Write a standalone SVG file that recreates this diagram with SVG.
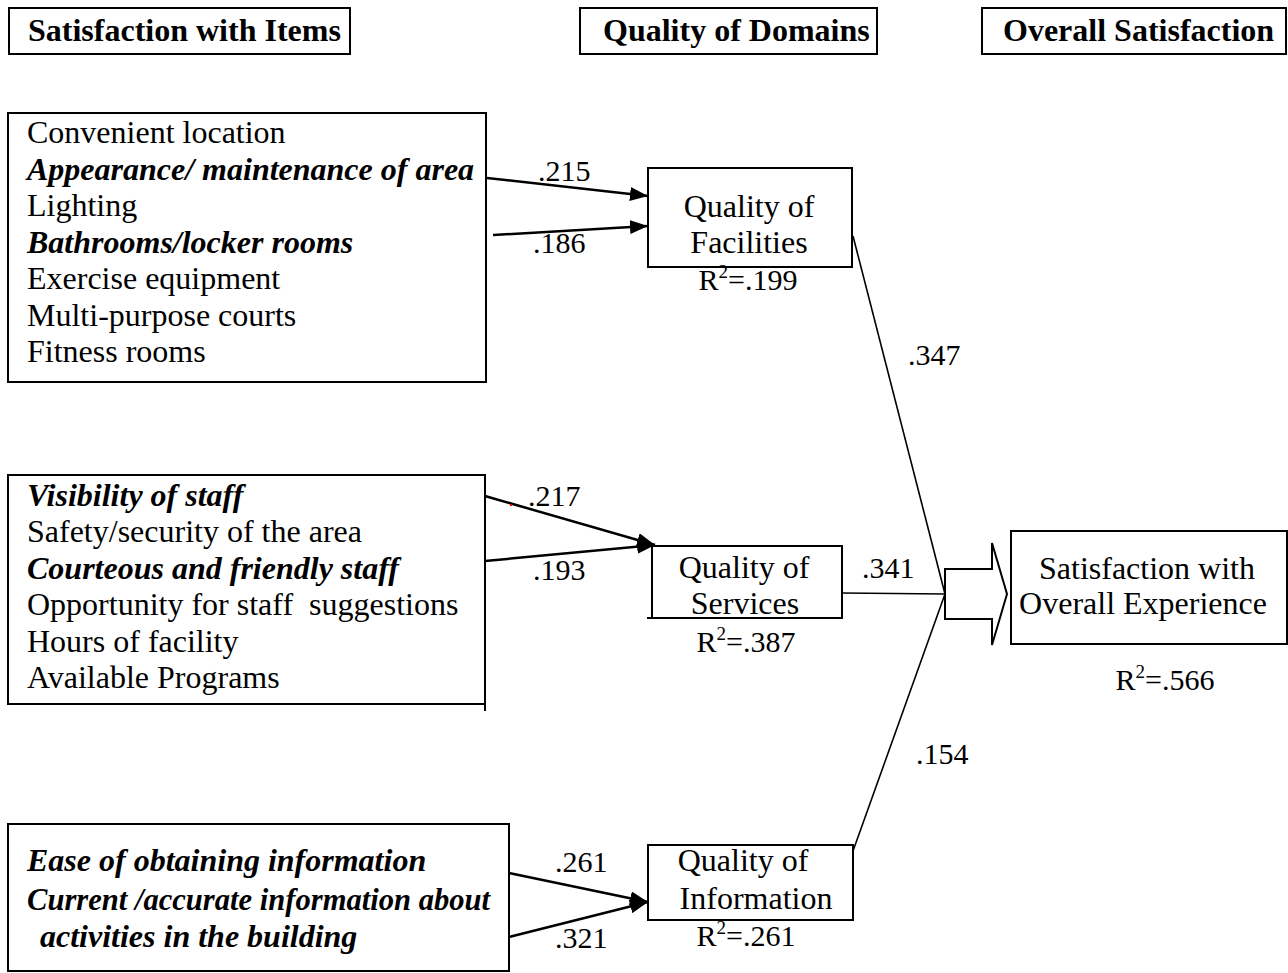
<svg xmlns="http://www.w3.org/2000/svg" width="1288" height="973" viewBox="0 0 1288 973">
<style>
  .box { fill: #fff; stroke: #000; stroke-width: 2; }
  .edge { fill: none; stroke: #000; stroke-width: 2; }
  .t { font-family: "Liberation Serif", "Times New Roman", serif; font-size: 32px; fill: #000; }
  .hb { font-family: "Liberation Serif", "Times New Roman", serif; font-size: 32px; font-weight: bold; fill: #000; }
  .bi { font-weight: bold; font-style: italic; }
  .n { font-family: "Liberation Serif", "Times New Roman", serif; font-size: 30px; fill: #000; }
  .mid { text-anchor: middle; }
  .arr { fill: none; stroke: #000; stroke-width: 2.5; marker-end: url(#ah); }
  .conn { fill: none; stroke: #000; stroke-width: 1.6; }
</style>
<defs>
  <marker id="ah" markerUnits="userSpaceOnUse" markerWidth="18" markerHeight="14" viewBox="0 0 18 14" refX="18" refY="7" orient="auto">
    <path d="M0,0 L18,7 L0,14 Z" fill="#000"/>
  </marker>
</defs>
<rect width="1288" height="973" fill="#fff"/>

<g id="header-items">
  <rect class="box" x="9" y="8" width="341" height="46"/>
  <text class="hb" x="28" y="41">Satisfaction with Items</text>
</g>
<g id="header-domains">
  <rect class="box" x="580" y="8" width="297" height="46"/>
  <text class="hb" x="603" y="41">Quality of Domains</text>
</g>
<g id="header-overall">
  <rect class="box" x="982" y="8" width="304" height="46"/>
  <text class="hb" x="1003" y="41">Overall Satisfaction</text>
</g>

<g id="items-facilities">
  <rect class="box" x="8" y="113" width="478" height="269"/>
  <text class="t" x="27" y="143">Convenient location</text>
  <text class="t bi" x="27" y="180">Appearance/ maintenance of area</text>
  <text class="t" x="27" y="216">Lighting</text>
  <text class="t bi" x="27" y="253">Bathrooms/locker rooms</text>
  <text class="t" x="27" y="289">Exercise equipment</text>
  <text class="t" x="27" y="326">Multi-purpose courts</text>
  <text class="t" x="27" y="362">Fitness rooms</text>
</g>

<g id="items-services">
  <rect class="box" x="8" y="475" width="477" height="229"/>
  <line class="edge" x1="485" y1="704" x2="485" y2="711"/>
  <text class="t bi" x="27" y="506">Visibility of staff</text>
  <text class="t" x="27" y="542">Safety/security of the area</text>
  <text class="t bi" x="27" y="579">Courteous and friendly staff</text>
  <text class="t" x="27" y="615">Opportunity for staff&#160; suggestions</text>
  <text class="t" x="27" y="652">Hours of facility</text>
  <text class="t" x="27" y="688">Available Programs</text>
</g>

<g id="items-information">
  <rect class="box" x="8" y="824" width="501" height="147"/>
  <text class="t bi" x="27" y="871">Ease of obtaining information</text>
  <text class="t bi" x="27" y="910" textLength="463" lengthAdjust="spacingAndGlyphs">Current /accurate information about</text>
  <text class="t bi" x="40" y="947">activities in the building</text>
</g>

<g id="quality-facilities">
  <rect class="box" x="648" y="168" width="204" height="99"/>
  <line class="edge" x1="647" y1="267" x2="852" y2="267"/>
  <text class="t mid" x="749" y="217">Quality of</text>
  <text class="t mid" x="749" y="253">Facilities</text>
  <text class="n mid" x="748" y="290">R<tspan font-size="19" dy="-12">2</tspan><tspan dy="12">=.199</tspan></text>
</g>

<g id="quality-services">
  <rect class="box" x="652" y="546" width="190" height="72"/>
  <line class="edge" x1="647" y1="618" x2="842" y2="618"/>
  <text class="t mid" x="744" y="578">Quality of</text>
  <text class="t mid" x="745" y="614">Services</text>
  <text class="n mid" x="746" y="652">R<tspan font-size="19" dy="-12">2</tspan><tspan dy="12">=.387</tspan></text>
</g>

<g id="quality-information">
  <rect class="box" x="648" y="845" width="205" height="75"/>
  <text class="t mid" x="743" y="871">Quality of</text>
  <text class="t mid" x="756" y="909">Information</text>
  <text class="n mid" x="746" y="946">R<tspan font-size="19" dy="-12">2</tspan><tspan dy="12">=.261</tspan></text>
</g>

<g id="overall-satisfaction">
  <rect class="box" x="1011" y="531" width="276" height="113"/>
  <text class="t mid" x="1147" y="579">Satisfaction with</text>
  <text class="t mid" x="1143" y="614">Overall Experience</text>
  <text class="n mid" x="1165" y="690">R<tspan font-size="19" dy="-12">2</tspan><tspan dy="12">=.566</tspan></text>
</g>

<g id="connectors">
  <line class="arr" x1="487" y1="178" x2="648" y2="196"/>
  <line class="arr" x1="493" y1="235" x2="648" y2="226"/>
  <line class="arr" x1="485" y1="496" x2="655" y2="545"/>
  <line class="arr" x1="485" y1="561" x2="655" y2="545"/>
  <line class="arr" x1="509" y1="873" x2="648" y2="902"/>
  <line class="arr" x1="509" y1="937" x2="648" y2="902"/>
  <line class="conn" x1="853" y1="236" x2="945" y2="594"/>
  <line class="conn" x1="842" y1="593" x2="945" y2="594"/>
  <line class="conn" x1="853" y1="851" x2="945" y2="594"/>
  <polygon class="box" points="945,569 992,569 992,543 1007,594 992,645 992,619 945,619"/>
  <rect x="510" y="504" width="2" height="2" fill="#e00"/>
  <text class="n" x="538" y="181">.215</text>
  <text class="n" x="533" y="253">.186</text>
  <text class="n" x="528" y="506">.217</text>
  <text class="n" x="533" y="580">.193</text>
  <text class="n" x="555" y="872">.261</text>
  <text class="n" x="555" y="948">.321</text>
  <text class="n" x="908" y="365">.347</text>
  <text class="n" x="862" y="578">.341</text>
  <text class="n" x="916" y="764">.154</text>
</g>
</svg>
